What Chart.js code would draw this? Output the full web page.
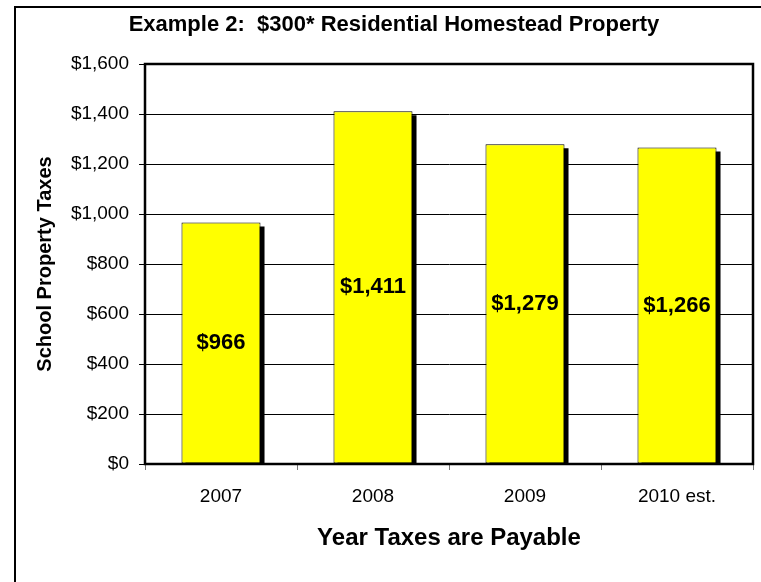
<!DOCTYPE html>
<html>
<head>
<meta charset="utf-8">
<script src="https://cdn.jsdelivr.net/npm/chart.js@4"></script>
<style>
  html, body { margin: 0; padding: 0; background: #fff; }
  #wrap { width: 761px; height: 582px; }
</style>
</head>
<body>
<div id="wrap"><canvas id="chart" width="761" height="582"></canvas></div>
<script>
// Chart data
const years = ['2007', '2008', '2009', '2010 est.'];
const taxes = [966, 1411, 1279, 1266];
const yTicks = [0, 200, 400, 600, 800, 1000, 1200, 1400, 1600];

const chartTitle = 'Example 2:  $300* Residential Homestead Property';
const fontFamily = '"Liberation Sans", Arial, sans-serif';

function money(v) {
    return '$' + v.toLocaleString('en-US');
}

// Outer frame, plot frame, title
const framePlugin = {
    id: 'frame',
    beforeDraw(chart) {
        const ctx = chart.ctx;
        ctx.save();
        ctx.fillStyle = '#fff';
        ctx.fillRect(0, 0, chart.width, chart.height);
        ctx.strokeStyle = '#000';
        ctx.lineWidth = 2;
        ctx.strokeRect(15, 7, chart.width + 20, chart.height + 20);
        ctx.fillStyle = '#000';
        ctx.font = 'bold 22px ' + fontFamily;
        ctx.textAlign = 'center';
        ctx.textBaseline = 'middle';
        ctx.fillText(chartTitle, 394, 25);
        ctx.restore();
    },
    afterDatasetsDraw(chart) {
        const a = chart.chartArea;
        const ctx = chart.ctx;
        ctx.save();
        ctx.strokeStyle = '#000';
        ctx.lineWidth = 2.5;
        ctx.strokeRect(a.left, a.top, a.right - a.left, a.bottom - a.top);
        ctx.restore();
    }
};

// Black drop shadow behind each bar
const shadowPlugin = {
    id: 'barShadow',
    beforeDatasetsDraw(chart) {
        const ctx = chart.ctx;
        ctx.save();
        ctx.fillStyle = '#000';
        chart.getDatasetMeta(0).data.forEach(bar => {
            const w = bar.width;
            ctx.fillRect(bar.x - w / 2 + 4, bar.y + 4, w, bar.base - bar.y - 4);
        });
        ctx.restore();
    }
};

// Value labels in the middle of each bar
const valueLabels = {
    id: 'valueLabels',
    afterDatasetsDraw(chart) {
        const ctx = chart.ctx;
        ctx.save();
        ctx.fillStyle = '#000';
        ctx.font = 'bold 22px ' + fontFamily;
        ctx.textAlign = 'center';
        ctx.textBaseline = 'middle';
        chart.getDatasetMeta(0).data.forEach((bar, i) => {
            ctx.fillText(money(taxes[i]), bar.x, (bar.y + bar.base) / 2);
        });
        ctx.restore();
    }
};

new Chart(document.getElementById('chart'), {
    type: 'bar',
    data: {
        labels: years,
        datasets: [{
            data: taxes,
            backgroundColor: '#FFFF00',
            borderColor: '#000',
            borderWidth: 1,
            borderSkipped: false,
            categoryPercentage: 1,
            barPercentage: 0.52
        }]
    },
    options: {
        responsive: false,
        animation: false,
        layout: { padding: { left: 15, right: 8, top: 64, bottom: 0 } },
        plugins: {
            legend: { display: false },
            tooltip: { enabled: false },
            title: { display: false }
        },
        scales: {
            x: {
                afterFit(scale) { scale.height = 118; },
                grid: {
                    drawOnChartArea: false,
                    drawTicks: true,
                    tickLength: 6,
                    color: '#777'
                },
                border: { display: true, color: '#000', width: 2 },
                ticks: {
                    color: '#000',
                    font: { family: fontFamily, size: 19 },
                    padding: 15
                },
                title: {
                    display: true,
                    text: 'Year Taxes are Payable',
                    color: '#000',
                    font: { family: fontFamily, size: 24, weight: 'bold' },
                    padding: { top: 29, bottom: 29 }
                }
            },
            y: {
                min: 0,
                max: 1600,
                afterFit(scale) { scale.width = 130; },
                afterBuildTicks(scale) {
                    scale.ticks = yTicks.map(v => ({ value: v }));
                },
                grid: {
                    color: '#000',
                    lineWidth: 1,
                    tickLength: 6
                },
                border: { display: true, color: '#000', width: 2 },
                ticks: {
                    color: '#000',
                    font: { family: fontFamily, size: 19 },
                    padding: 10,
                    callback: v => money(v)
                },
                title: {
                    display: true,
                    text: 'School Property Taxes',
                    color: '#000',
                    font: { family: fontFamily, size: 20, weight: 'bold' },
                    padding: { top: 18, bottom: 18 }
                }
            }
        }
    },
    plugins: [framePlugin, shadowPlugin, valueLabels]
});
</script>
</body>
</html>
